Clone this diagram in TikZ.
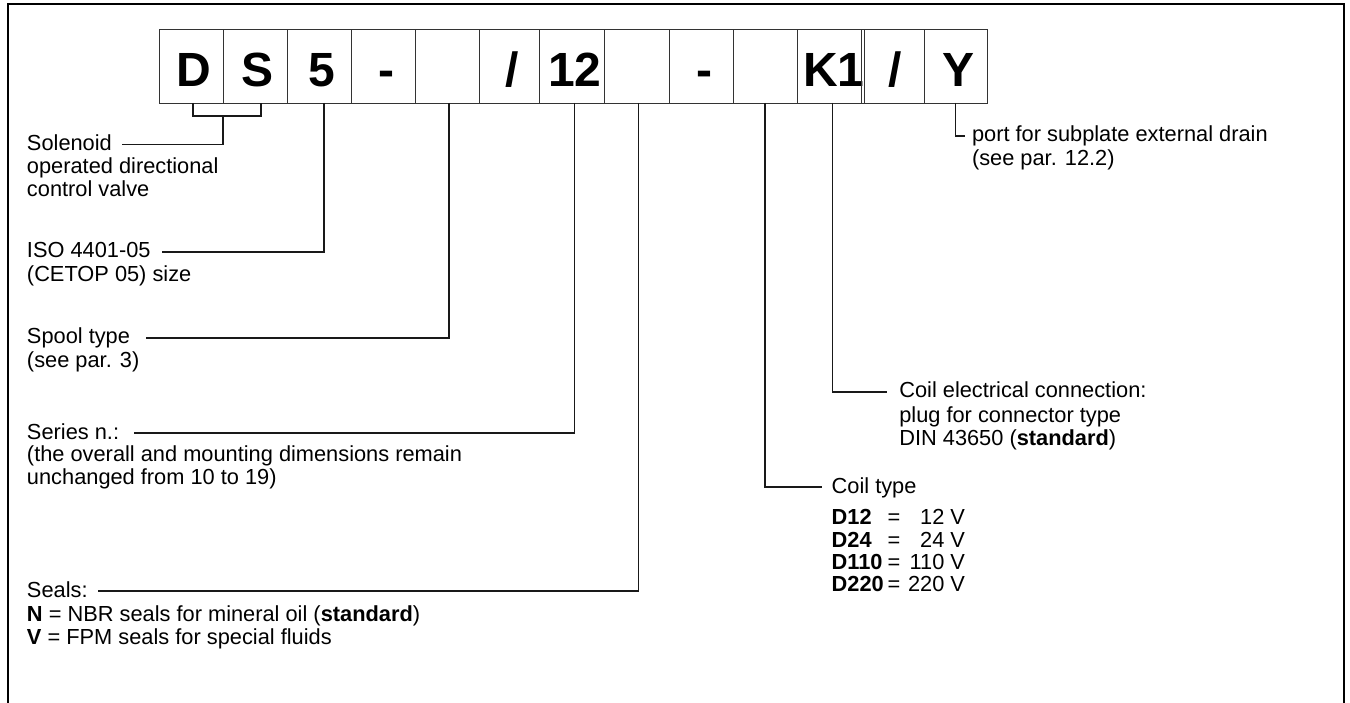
\documentclass[tikz,border=0pt]{standalone}
\usepackage{fontspec}
\setmainfont{Liberation Sans}
\begin{document}
\begin{tikzpicture}[x=1pt,y=-1pt,
  box/.style={draw=black!80, line width=0.9pt, minimum height=74pt, inner sep=0pt, outer sep=0pt,
    anchor=north west, text height=42pt, text depth=0pt,
    font=\fontsize{48}{48}\selectfont\bfseries, execute at begin node={\hspace*{6pt}}},
  conn/.style={draw=black!90, line width=1.2pt},
  frame/.style={draw=black, line width=2pt},
  lab/.style={inner sep=0pt, outer sep=0pt, anchor=west, text height=16pt, text depth=4pt,
    font=\fontsize{21.8}{23}\selectfont}]
\useasboundingbox (0,0) rectangle (1350,703);
% outer frame
\draw[frame] (7.5,703) -- (7.5,4) -- (1343.5,4) -- (1343.5,703);
% code boxes
\node[box, minimum width=64pt]   (b1)  at (159,29)   {D};
\node[box, minimum width=64pt]   (b2)  at (223,29)   {S};
\node[box, minimum width=64pt]   (b3)  at (287,29)   {5};
\node[box, minimum width=64pt]   (b4)  at (351,29)   {-};
\node[box, minimum width=64pt]   (b5)  at (415,29)   {};
\node[box, minimum width=60.5pt] (b6)  at (479,29)   {/};
\node[box, minimum width=64.5pt] (b7)  at (539.5,29) {12};
\node[box, minimum width=65pt]   (b8)  at (604,29)   {};
\node[box, minimum width=64pt]   (b9)  at (669,29)   {-};
\node[box, minimum width=64pt]   (b10) at (733,29)   {};
\node[box, minimum width=64pt]   (b11) at (797,29)   {K1};
\node[box, minimum width=63pt]   (b12) at (861,29)   {/};
\node[box, minimum width=63pt]   (b13) at (924,29)   {Y};
% left labels
\node[lab] (sol)  at (27,144.7) {Solenoid};
\node[lab] (sol2) at (27,167.5) {operated directional};
\node[lab] (sol3) at (27,190.3) {control valve};
\node[lab] (iso)  at (27,252)   {ISO 4401-05};
\node[lab] (iso2) at (27,275.7) {(CETOP 05) size};
\node[lab] (spool)  at (27,338)   {Spool type};
\node[lab] (spool2) at (27,361.7) {(see par. 3)};
\node[lab] (ser)  at (27,433)   {Series n.:};
\node[lab] (ser2) at (27,455.5) {(the overall and mounting dimensions remain};
\node[lab] (ser3) at (27,478)   {unchanged from 10 to 19)};
\node[lab] (seal)  at (27,591)  {Seals:};
\node[lab] (seal2) at (27,615)  {\textbf{N} = NBR seals for mineral oil (\textbf{standard})};
\node[lab] (seal3) at (27,638)  {\textbf{V} = FPM seals for special fluids};
% right labels
\node[lab] (port)  at (972,136) {port for subplate external drain};
\node[lab] (port2) at (972,160) {(see par. 12.2)};
\node[lab] (coc)  at (899.3,392) {Coil electrical connection:};
\node[lab] (coc2) at (899.3,416) {plug for connector type};
\node[lab] (coc3) at (899.3,439) {DIN 43650 (\textbf{standard})};
\node[lab] (cot)  at (831.7,487) {Coil type};
\node[lab] (d12)  at (831.7,518) {\makebox[56pt][l]{\textbf{D12}}=\makebox[44pt][r]{12}~V};
\node[lab] (d24)  at (831.7,541) {\makebox[56pt][l]{\textbf{D24}}=\makebox[44pt][r]{24}~V};
\node[lab] (d110) at (831.7,563) {\makebox[56pt][l]{\textbf{D110}}=\makebox[44pt][r]{110}~V};
\node[lab] (d220) at (831.7,585) {\makebox[56pt][l]{\textbf{D220}}=\makebox[44pt][r]{220}~V};
% connectors
\coordinate (brk) at ([yshift=-13pt]b1.south east);
\draw[conn] ([xshift=2pt]b1.south) |- (brk) -| ([xshift=6pt]b2.south);
\draw[conn] (brk) |- ([xshift=10pt]sol.east);
\draw[conn] ([xshift=5pt]b3.south) |- ([xshift=11pt]iso.east);
\draw[conn] ([xshift=2pt]b5.south) |- ([xshift=16pt]spool.east);
\draw[conn] ([xshift=3pt]b7.south) |- ([xshift=15pt]ser.east);
\draw[conn] ([xshift=2pt]b8.south) |- ([xshift=10pt]seal.east);
\draw[conn] (b10.south) |- ([xshift=-10pt]cot.west);
\draw[conn] ([xshift=2pt]b11.south) |- ([xshift=-12pt]coc.west);
\draw[conn] (b13.south) |- ([xshift=-7pt]port.west);
\end{tikzpicture}
\end{document}
